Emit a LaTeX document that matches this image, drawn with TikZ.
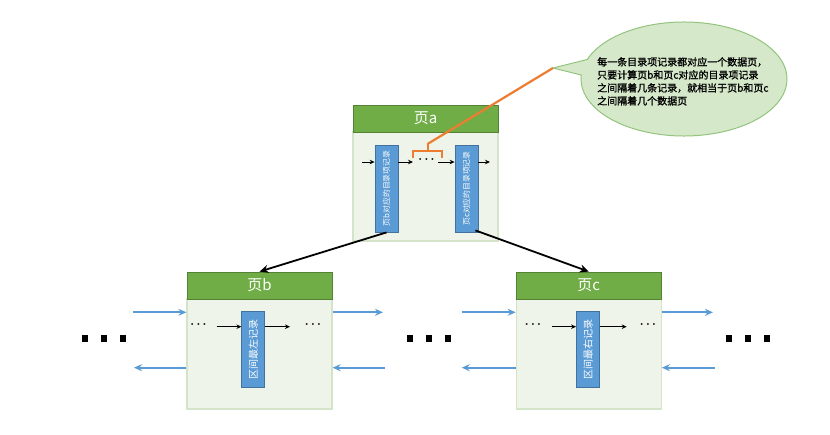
\documentclass[tikz,border=0pt]{standalone}
\usepackage{fontspec}
\setmainfont{Noto Sans CJK SC}
\newfontfamily\notefont[FakeBold=1.2]{Noto Sans CJK SC}
\usetikzlibrary{arrows.meta,calc}
\definecolor{hdrgreen}{HTML}{70AD47}
\definecolor{hdrdark}{HTML}{548235}
\definecolor{bodyfill}{HTML}{EEF4EA}
\definecolor{bodyline}{HTML}{D3E4C8}
\definecolor{recblue}{HTML}{5B9BD5}
\definecolor{recline}{HTML}{41719C}
\definecolor{arrowblue}{HTML}{5B9BD5}
\definecolor{orangeline}{HTML}{ED7D31}
\definecolor{notefill}{HTML}{D6E8CA}
\definecolor{noteline}{HTML}{93C47D}
\begin{document}
\begin{tikzpicture}[x=1pt,y=-1pt,
  hdr/.style={draw=hdrdark, fill=hdrgreen, line width=0.8pt, minimum width=145pt, minimum height=27pt, inner sep=0pt, text=white, font=\fontsize{15}{15}\selectfont},
  pagebody/.style={draw=bodyline, fill=bodyfill, line width=1.2pt, minimum width=145pt, inner sep=0pt},
  rec/.style={draw=recline, fill=recblue, line width=0.8pt, minimum width=23pt, inner sep=0pt},
  rectxt/.style={text=white, rotate=90, inner sep=0pt},
  dotstxt/.style={inner sep=0pt, font=\fontsize{12}{12}\selectfont\boldmath},
  blkarr/.style={-{Stealth[length=5pt,width=4.5pt]}, line width=0.9pt},
  bigarr/.style={-{Stealth[length=9pt,width=8pt]}, line width=1.8pt},
  bluearr/.style={-{Stealth[length=8pt,width=7pt]}, line width=2pt, draw=arrowblue},
  sq/.style={fill=black, minimum width=6pt, minimum height=7pt, inner sep=0pt},
  notetxt/.style={align=left, inner sep=0pt, font=\notefont\fontsize{10}{13}\selectfont}
]
\useasboundingbox (0,0) rectangle (830,434);

% ---- callout bubble ----
\coordinate (tip) at (553,68);
\filldraw[fill=notefill, draw=noteline, line width=1pt]
  (tip) -- (587.21,59.50) arc[start angle=200, end angle=544, x radius=103, y radius=57] -- cycle;
\node[notetxt, anchor=north west] (note) at (597,57) {每一条目录项记录都对应一个数据页，\\只要计算页b和页c对应的目录项记录\\之间隔着几条记录，就相当于页b和页c\\之间隔着几个数据页};

% ---- page a ----
\node[pagebody, minimum height=109pt] (ba) at (425.5,186.5) {};
\node[hdr] (ha) at (425.5,118.5) {页a};
\node[rec, minimum height=87pt] (r1) at (386.5,188.5) {};
\node[rectxt, font=\fontsize{7.8}{7.8}\selectfont] (t1) at (r1) {页b对应的目录项记录};
\node[rec, minimum height=87pt] (r2) at (466.5,188.5) {};
\node[rectxt, font=\fontsize{7.8}{7.8}\selectfont] (t2) at (r2) {页c对应的目录项记录};
\node[dotstxt] (da) at (426.5,160) {$\cdots$};
\coordinate (ina) at (362,162);
\coordinate (outa) at (490,162);
\coordinate (m1) at (413,162);
\coordinate (m2) at (438,162);
\draw[blkarr] (ina) -- (r1.west |- ina);
\draw[blkarr] (r1.east |- ina) -- (m1);
\draw[blkarr] (m2) -- (r2.west |- ina);
\draw[blkarr] (r2.east |- ina) -- (outa);

% bracket and orange line
\coordinate (brk) at (427.5,144);
\draw[orangeline, line width=2pt] (413,158) -- (413,150.5) -- (442,150.5) -- (442,158);
\draw[orangeline, line width=2pt] (427.5,150.5) -- (brk);
\draw[orangeline, line width=2.2pt] (tip) -- (brk);

% ---- page b ----
\node[pagebody, minimum height=110pt] (bb) at (259.5,354) {};
\node[hdr] (hb) at (259.5,285.5) {页b};
\node[rec, minimum height=75.5pt] (rb) at (253.3,349.3) {};
\node[rectxt, font=\fontsize{10}{10}\selectfont] (tb) at (rb) {区间最左记录};
\node[dotstxt] (dbl) at (198.5,325) {$\cdots$};
\node[dotstxt] (dbr) at (313,325) {$\cdots$};
\coordinate (inb) at (216.7,326.7);
\coordinate (outb) at (290,326.7);
\draw[blkarr] (inb) -- (rb.west |- inb);
\draw[blkarr] (rb.east |- inb) -- (outb);

% ---- page c ----
\node[pagebody, minimum height=110pt] (bc) at (588.8,354) {};
\node[hdr] (hc) at (588.8,285.5) {页c};
\node[rec, minimum height=75.5pt] (rc) at (588,349.3) {};
\node[rectxt, font=\fontsize{10}{10}\selectfont] (tc) at (rc) {区间最右记录};
\node[dotstxt] (dcl) at (533,325) {$\cdots$};
\node[dotstxt] (dcr) at (648,325) {$\cdots$};
\coordinate (inc) at (551.7,326.7);
\coordinate (outc) at (626.7,326.7);
\draw[blkarr] (inc) -- (rc.west |- inc);
\draw[blkarr] (rc.east |- inc) -- (outc);

% ---- big arrows from page a to pages b and c ----
\draw[bigarr] (r1.south) -- (hb.north);
\draw[bigarr] ($(r2.south east)+(-3,-2)$) -- (hc.north);

% ---- blue arrows ----
\coordinate (yt) at (0,312.3);
\coordinate (yb) at (0,367.7);
\coordinate (a1) at (133,312.3);
\coordinate (a2) at (383,312.3);
\coordinate (a3) at (461.7,312.3);
\coordinate (a4) at (713,312.3);
\coordinate (b1) at (134,367.7);
\coordinate (b2) at (385,367.7);
\coordinate (b3) at (461.7,367.7);
\coordinate (b4) at (715,367.7);
\draw[bluearr] (a1) -- (bb.west |- yt);
\draw[bluearr] (bb.east |- yt) -- (a2);
\draw[bluearr] (a3) -- (bc.west |- yt);
\draw[bluearr] (bc.east |- yt) -- (a4);
\draw[bluearr] (bb.west |- yb) -- (b1);
\draw[bluearr] (b2) -- (bb.east |- yb);
\draw[bluearr] (bc.west |- yb) -- (b3);
\draw[bluearr] (b4) -- (bc.east |- yb);

% ---- big ellipsis squares ----
\node[sq] (s1) at (84.5,338) {};
\node[sq] (s2) at (103.7,338) {};
\node[sq] (s3) at (122.8,338) {};
\node[sq] (s4) at (409.5,338) {};
\node[sq] (s5) at (428.5,338) {};
\node[sq] (s6) at (447.8,338) {};
\node[sq] (s7) at (728.8,338) {};
\node[sq] (s8) at (747.8,338) {};
\node[sq] (s9) at (767.2,338) {};
\end{tikzpicture}
\end{document}
